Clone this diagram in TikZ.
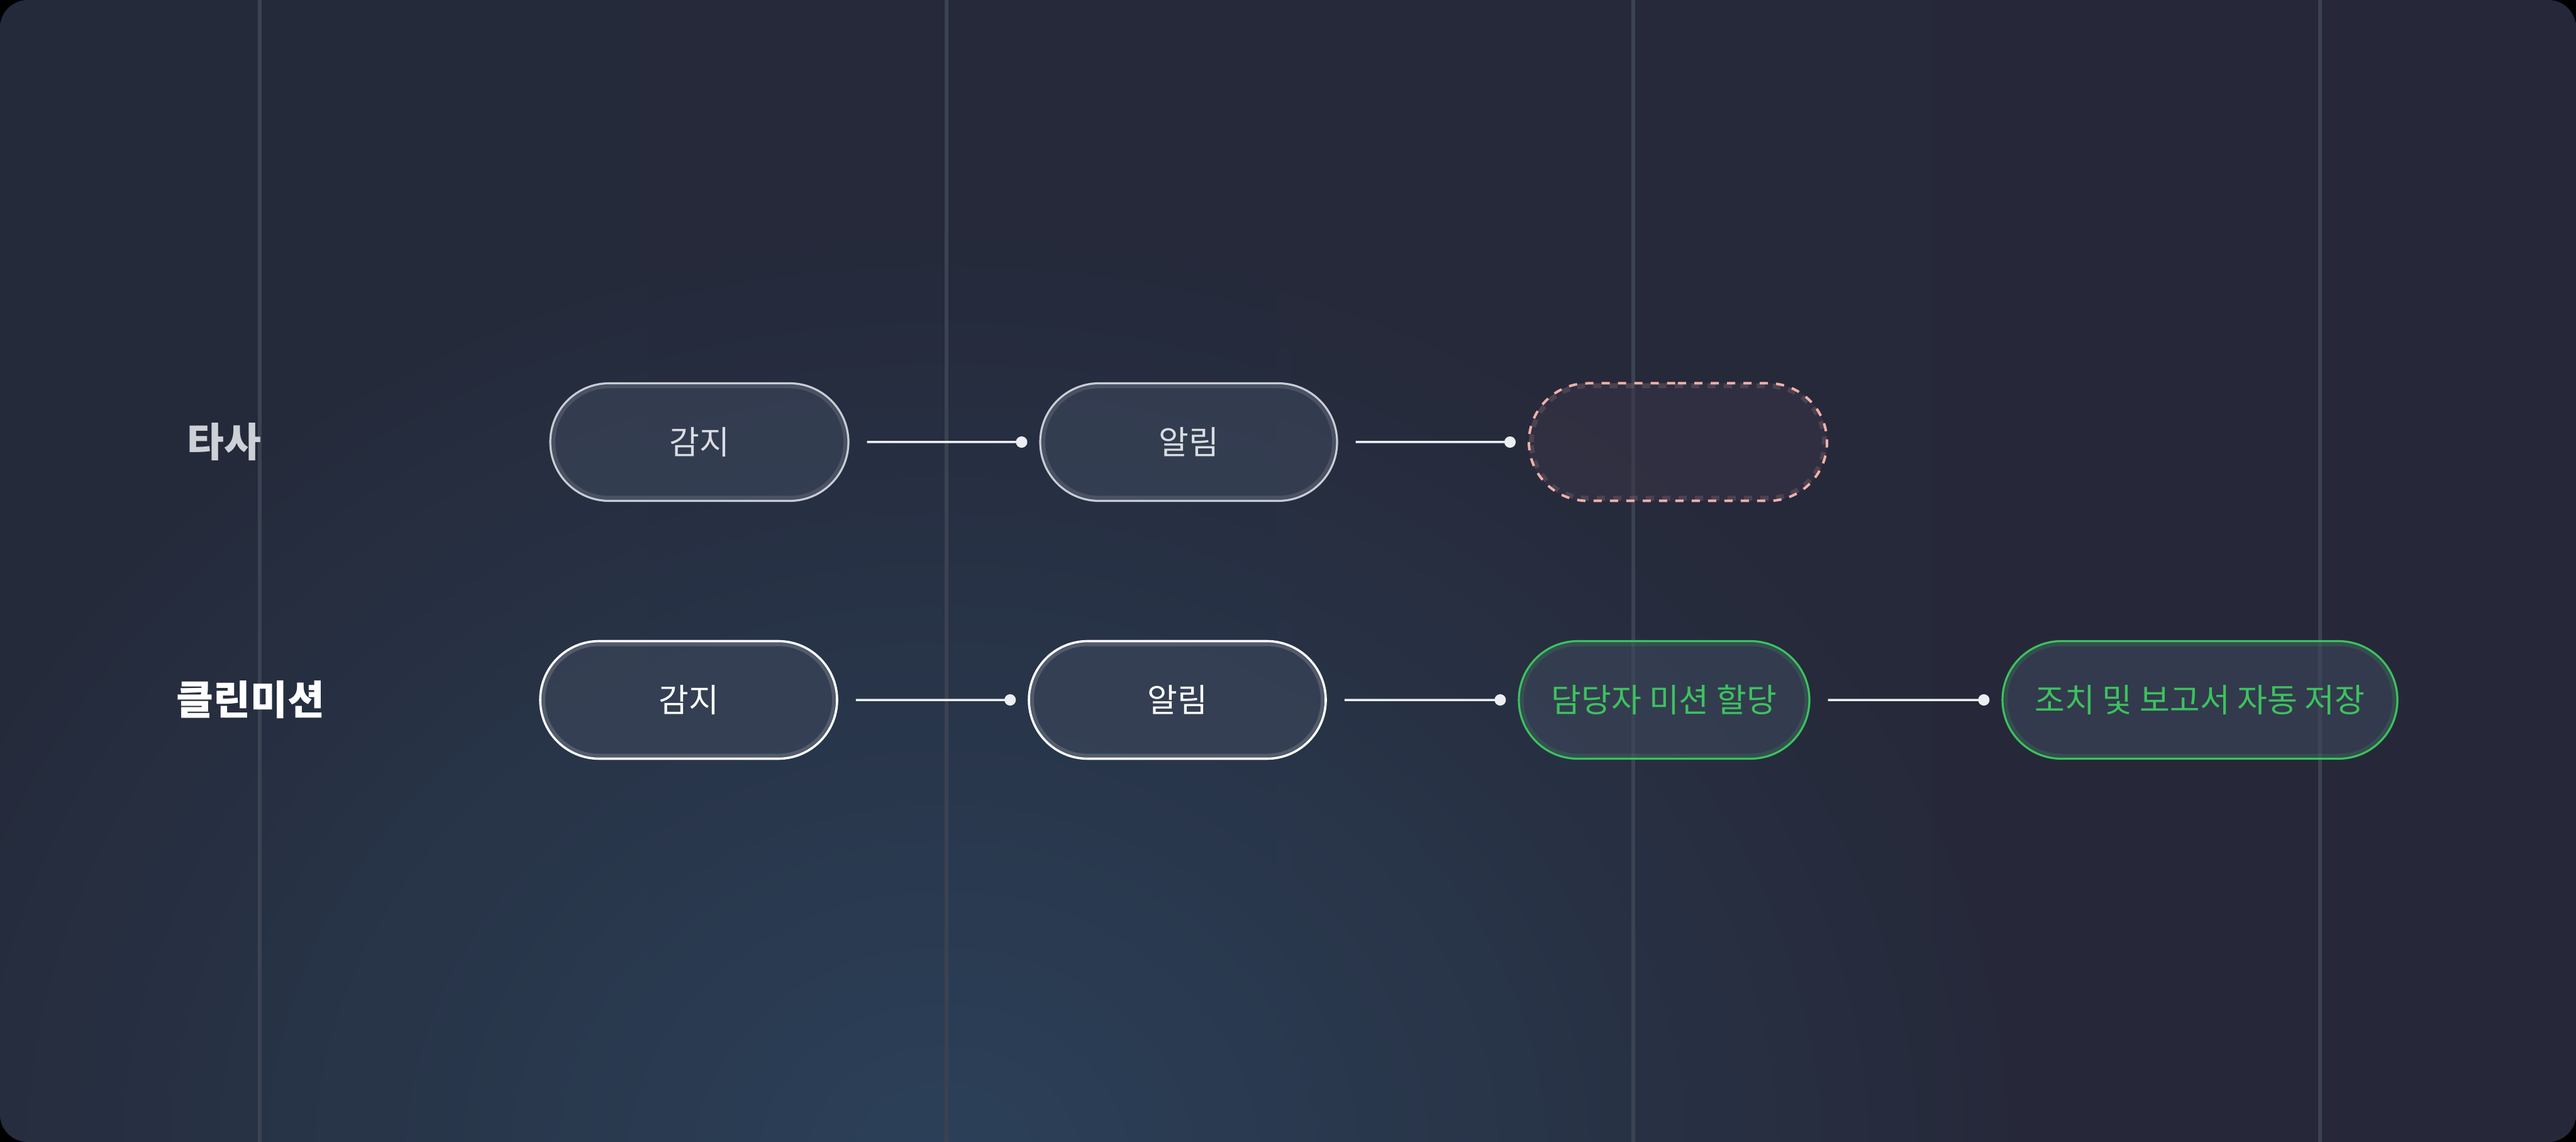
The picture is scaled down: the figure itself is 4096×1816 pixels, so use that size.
\documentclass[tikz,border=0pt]{standalone}
\usepackage{fontspec}
\newfontfamily\kr{Noto Sans CJK KR}
\usetikzlibrary{shapes.misc,arrows.meta,fadings}
\tikzfading[name=softglow, inner color=transparent!0, outer color=transparent!100]
\definecolor{bgA}{HTML}{252A3A}
\definecolor{bgB}{HTML}{262839}
\definecolor{glowc}{HTML}{2C4159}
\definecolor{vline}{HTML}{3B4252}
\definecolor{pillfill}{HTML}{3D475B}
\definecolor{dashfill}{HTML}{3B3649}
\definecolor{okgreen}{HTML}{3CC25E}
\definecolor{pinkc}{HTML}{F2B0AA}
\definecolor{graybd}{HTML}{C9CDD5}
\definecolor{graytx}{HTML}{D9DCE2}
\definecolor{labgray}{HTML}{CDD0D7}
\definecolor{connc}{HTML}{ECEEF2}
\begin{document}
\begin{tikzpicture}[x=0.25pt,y=-0.25pt,
  pill/.style={rounded rectangle, minimum height=46.75pt, inner sep=0pt,
    font=\kr\fontsize{13pt}{15pt}\selectfont, fill=pillfill, fill opacity=0.6,
    text opacity=1, draw opacity=1, line width=0.8pt,
    path picture={\draw[#1, line width=4pt, opacity=0.15, rounded corners=23.3pt]
      (path picture bounding box.south west) rectangle (path picture bounding box.north east);}},
  graypill/.style={pill=graybd, draw=graybd, text=graytx},
  whitepill/.style={pill=white, draw=white, text=white, line width=0.9pt},
  greenpill/.style={pill=okgreen, draw=okgreen, text=okgreen},
  dashpill/.style={pill=pinkc, draw=pinkc, fill=dashfill, fill opacity=0.5, line width=1pt, dash pattern=on 3.25pt off 3.25pt},
  lab/.style={anchor=west, inner sep=0pt, font=\kr\bfseries\fontsize{16pt}{18pt}\selectfont},
  conn/.style={draw=connc, line width=0.875pt, shorten <=7pt, shorten >=4.75pt, -{Circle[length=4.5pt]}}
]
\useasboundingbox (0,0) rectangle (4096,1816);
\fill[black] (0,0) rectangle (4096,1816);
\begin{scope}
  \clip[rounded corners=11pt] (0,0) rectangle (4096,1816);
  \shade[left color=bgA, right color=bgB] (0,0) rectangle (4096,1816);
  \fill[glowc, path fading=softglow] (1500,1850) ellipse [x radius=440pt, y radius=380pt];
  \foreach \xx in {413,1505,2597,3689}
    \draw[vline, line width=1.3pt] (\xx,0) -- (\xx,1816);
\end{scope}

\node[lab, text=labgray] (l1) at (297,703) {타사};
\node[lab, text=white] (l2) at (280,1113) {클린미션};

\node[graypill, minimum width=118.5pt] (r1a) at (1112,703) {감지};
\node[graypill, minimum width=118pt] (r1b) at (1890,703) {알림};
\node[dashpill, minimum width=118.5pt] (r1c) at (2668,703) {};

\node[whitepill, minimum width=118pt] (r2a) at (1095,1113) {감지};
\node[whitepill, minimum width=118pt] (r2b) at (1872,1113) {알림};
\node[greenpill, minimum width=115.5pt] (r2c) at (2646,1113) {담당자 미션 할당};
\node[greenpill, minimum width=157pt] (r2d) at (3498,1113) {조치 및 보고서 자동 저장};

\draw[conn] (r1a) -- (r1b);
\draw[conn] (r1b) -- (r1c);
\draw[conn] (r2a) -- (r2b);
\draw[conn] (r2b) -- (r2c);
\draw[conn] (r2c) -- (r2d);
\end{tikzpicture}
\end{document}
